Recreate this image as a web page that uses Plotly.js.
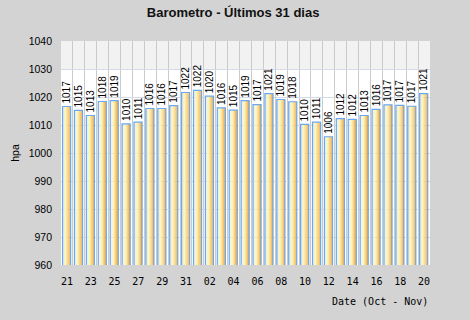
<!DOCTYPE html>
<html>
<head>
<meta charset="utf-8">
<script src="https://cdn.plot.ly/plotly-3.0.1.min.js"></script>
<style>html,body{margin:0;padding:0;background:#d3d3d3;}#chart{width:470px;height:320px;}</style>
</head>
<body>
<div id="chart"></div>
<script>
// Data: pressure (hPa) for the last 31 days, 21 Oct - 20 Nov
const days = ["21","22","23","24","25","26","27","28","29","30","31",
              "01","02","03","04","05","06","07","08","09","10",
              "11","12","13","14","15","16","17","18","19","20"];
const pressure = [1016.6,1015.2,1013.4,1018.4,1018.7,1010.4,1011.0,1015.9,1015.9,1016.9,1021.6,
                  1022.4,1020.3,1016.1,1015.3,1018.7,1017.3,1021.2,1019.1,1018.3,1010.2,
                  1011.0,1005.8,1012.3,1012.0,1013.4,1015.6,1017.2,1017.0,1016.7,1021.2];
const labels = ["1017","1015","1013","1018","1019","1010","1011","1016","1016","1017","1022",
                "1022","1020","1016","1015","1019","1017","1021","1019","1018","1010",
                "1011","1006","1012","1012","1013","1016","1017","1017","1017","1021"];

const idx = days.map((d, i) => i);
const tickIdx = idx.filter(i => i % 2 === 0);
const tickText = tickIdx.map(i => days[i]);

// gradient fill stripes (left -> right)
const stripeColors = ["#e4e4e4","#f1f1d4","#f8f6bc","#f9e9a4","#f8d485","#f6bf5e","#f1a93a"];
const barOffset = -0.37, barWidth = 0.68;
const sw = barWidth / stripeColors.length;

const traces = stripeColors.map((c, k) => ({
  type: "bar", x: idx, y: pressure,
  width: sw + 0.005, offset: barOffset + k * sw,
  marker: {color: c, line: {width: 0}},
  hoverinfo: "skip", showlegend: false
}));

traces.push({
  type: "bar", x: idx, y: pressure,
  width: barWidth, offset: barOffset,
  marker: {color: "rgba(0,0,0,0)", line: {width: 1.2, color: "#6aa8f2"}},
  text: labels, textposition: "outside", textangle: -90,
  constraintext: "none", cliponaxis: false,
  textfont: {family: "Liberation Sans, Arial, sans-serif", size: 10, color: "#000"},
  showlegend: false
});

const layout = {
  width: 470, height: 320,
  paper_bgcolor: "#d3d3d3",
  plot_bgcolor: "#ffffff",
  barmode: "overlay",
  margin: {l: 61, r: 40, t: 41, b: 55},
  title: {
    text: "Barometro - Últimos 31 dias",
    font: {family: "Liberation Sans, Arial, sans-serif", size: 13, color: "#111", weight: "bold"},
    x: 0.496, xanchor: "center", xref: "container",
    y: 0.96, yanchor: "middle", yref: "container"
  },
  xaxis: {
    type: "linear", range: [-0.5, 30.5],
    tickmode: "array", tickvals: tickIdx, ticktext: tickText,
    showgrid: false, zeroline: false, showline: false, ticks: "",
    ticklabelstandoff: 9,
    tickfont: {family: "DejaVu Sans Mono, monospace", size: 10, color: "#000"},
    minor: {tick0: -0.5, dtick: 1, showgrid: true, gridcolor: "#cacaca", gridwidth: 1, ticks: ""}
  },
  yaxis: {
    range: [960, 1040], dtick: 10, tick0: 960,
    showgrid: true, gridcolor: "#d4dae6", gridwidth: 1,
    zeroline: false, showline: false, ticks: "",
    ticklabelstandoff: 8,
    tickfont: {family: "Liberation Sans, Arial, sans-serif", size: 10.5, color: "#000"},
    title: {text: "hpa", standoff: 6,
            font: {family: "Liberation Sans, Arial, sans-serif", size: 10.5, color: "#000"}}
  },
  shapes: [{
    type: "rect", xref: "paper", yref: "y", x0: 0, x1: 1, y0: 1030, y1: 1040,
    fillcolor: "#f2f2f2", line: {width: 0}, layer: "below"
  }],
  annotations: [{
    text: "Date (Oct - Nov)", xref: "paper", yref: "paper",
    x: 1, y: 0, xanchor: "right", yanchor: "middle", yshift: -36,
    showarrow: false,
    font: {family: "DejaVu Sans Mono, monospace", size: 10, color: "#000"}
  }]
};

Plotly.newPlot("chart", traces, layout, {staticPlot: true, displayModeBar: false});
</script>
</body>
</html>
